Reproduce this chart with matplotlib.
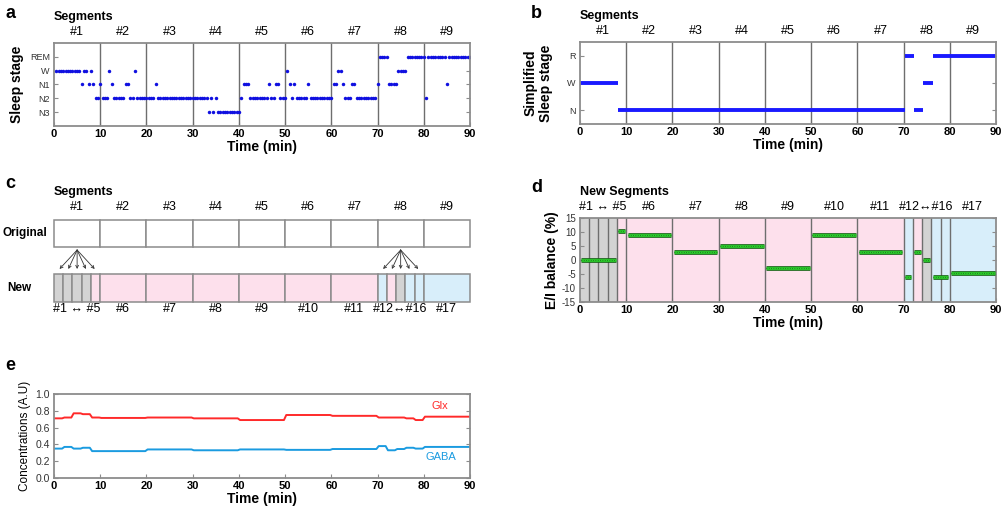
import matplotlib
matplotlib.use("Agg")
import matplotlib.pyplot as plt
import matplotlib.patches as mpatches
import numpy as np
from itertools import groupby

plt.rcParams["font.family"] = ["Liberation Sans", "DejaVu Sans"]
plt.rcParams["axes.unicode_minus"] = False

# ---- data ----
stage_names = ["N3", "N2", "N1", "W", "REM"]
# hypnogram, 30-s epochs as (stage, number of epochs)
hypno_stage = ["W", "N1", "W", "N1", "W", "N1", "N2", "N1", "N2", "W", "N1", "N2", "N1", "N2",
               "W", "N2", "N1", "N2", "N3", "N2", "N3", "N2", "N3", "N2", "N1", "N2", "N1", "N2",
               "N1", "N2", "W", "N1", "N2", "N1", "N2", "N1", "N2", "N1", "W", "N1", "N2", "N1",
               "N2", "N1", "REM", "N1", "W", "REM", "N2", "REM", "N1", "REM"]
hypno_len = [11, 1, 2, 1, 1, 1, 2, 1, 3, 1, 1, 5, 2, 2,
             1, 8, 1, 22, 1, 1, 1, 1, 10, 1, 3, 8, 1, 2,
             2, 3, 1, 1, 1, 1, 5, 1, 10, 2, 2, 1, 3, 2,
             9, 1, 4, 4, 4, 8, 1, 8, 1, 10]

simple_names = ["N", "W", "R"]
simple_start = [0, 8.3, 70.3, 72.3, 74.3, 76.3]
simple_end = [8.3, 70.3, 72.3, 74.3, 76.3, 90]
simple_stage = ["W", "N", "R", "N", "W", "R"]

orig_bounds = [0, 10, 20, 30, 40, 50, 60, 70, 80, 90]
orig_labels = ["#1", "#2", "#3", "#4", "#5", "#6", "#7", "#8", "#9"]

new_bounds = [0, 2, 4, 6, 8, 10, 20, 30, 40, 50, 60, 70, 72, 74, 76, 78, 80, 90]
new_kind = ["gray"] * 4 + ["pink"] * 7 + ["blue", "pink", "gray", "blue", "blue", "blue"]
new_label_pos = [5, 15, 25, 35, 45, 55, 65, 75, 85]
new_labels = ["#1 \u2194 #5", "#6", "#7", "#8", "#9", "#10", "#11", "#12\u2194#16", "#17"]

ei_balance = [0, 0, 0, 0, 10.5, 9, 2.7, 5, -2.7, 9, 3, -6, 3, 0, -6, -6, -4.5]
glx = [0.71, 0.72, 0.77, 0.76, 0.72, 0.715, 0.72, 0.71, 0.69, 0.75, 0.74, 0.72, 0.72, 0.72, 0.71, 0.69, 0.73]
gaba = [0.35, 0.37, 0.35, 0.36, 0.32, 0.32, 0.34, 0.33, 0.34, 0.335, 0.345, 0.38, 0.33, 0.345, 0.36, 0.35, 0.37]

kind_color = {"gray": "#d3d3d3", "pink": "#fde0ec", "blue": "#d8eefa"}
SPINE = "#8c8c8c"
VLINE = "#6e6e6e"

W, H = 1007, 511
fig = plt.figure(figsize=(W / 100, H / 100), dpi=100)


def box(l, t, r, b):
    return [l / W, 1 - b / H, (r - l) / W, (b - t) / H]


def style(ax, xbold=True):
    for s in ax.spines.values():
        s.set_color(SPINE)
        s.set_linewidth(1.3)
    ax.tick_params(direction="in", length=3, color=SPINE, right=True, top=False)
    ax.tick_params(axis="y", labelsize=6.5, labelcolor="#333333", pad=3)
    ax.tick_params(axis="x", labelsize=8, pad=2)
    ax.set_xlim(0, 90)
    ax.set_xticks(range(0, 91, 10))
    if xbold:
        for lb in ax.get_xticklabels():
            lb.set_fontweight("bold")


def seg_labels(ax, centers, labels, head, dy=8, dy_head=19):
    for c, lb in zip(centers, labels):
        ax.annotate(lb, (c, 1), xycoords=("data", "axes fraction"), xytext=(0, dy),
                    textcoords="offset points", ha="center", va="center", fontsize=9)
    ax.annotate(head, (0, 1), xycoords="axes fraction", xytext=(0, dy_head),
                textcoords="offset points", ha="left", va="center", fontsize=9, fontweight="bold")


def letter(x, y, s):
    fig.text(x / W, 1 - y / H, s, fontsize=13, fontweight="bold", ha="left", va="center")


orig_centers = [(a + b) / 2 for a, b in zip(orig_bounds[:-1], orig_bounds[1:])]

# ---- a: hypnogram ----
ax = fig.add_axes(box(54, 43, 470, 126))
codes = np.repeat([stage_names.index(s) + 1 for s in hypno_stage], hypno_len)
t = 0.5 * np.arange(1, len(codes) + 1)
for b in orig_bounds[1:-1]:
    ax.axvline(b, color=VLINE, lw=1)
ax.plot(t, codes, "o", color="#1010e0", ms=2.5, mew=0)
ax.set_ylim(0, 6)
ax.set_yticks(range(1, 6))
ax.set_yticklabels(stage_names)
style(ax)
ax.set_xlabel("Time (min)", fontsize=10, fontweight="bold", labelpad=1)
ax.set_ylabel("Sleep stage", fontsize=10, fontweight="bold", labelpad=4)
seg_labels(ax, orig_centers, orig_labels, "Segments")
letter(5, 14, "a")

# ---- b: simplified hypnogram ----
ax = fig.add_axes(box(580, 42, 996, 124))
for b in orig_bounds[1:-1]:
    ax.axvline(b, color=VLINE, lw=1)
for s0, s1, st in zip(simple_start, simple_end, simple_stage):
    y = simple_names.index(st) + 1
    ax.plot([s0, s1], [y, y], color="#1a1aff", lw=2.8, solid_capstyle="butt")
ax.set_ylim(0.5, 3.5)
ax.set_yticks([1, 2, 3])
ax.set_yticklabels(simple_names)
style(ax)
ax.set_xlabel("Time (min)", fontsize=10, fontweight="bold", labelpad=1)
ax.set_ylabel("Simplified\nSleep stage", fontsize=10, fontweight="bold", labelpad=10)
seg_labels(ax, orig_centers, orig_labels, "Segments")
letter(531, 14, "b")

# ---- c: segment scheme ----
ax = fig.add_axes(box(54, 215, 470, 305))
ax.set_xlim(0, 90)
ax.set_ylim(305, 215)
ax.axis("off")
for a, b in zip(orig_bounds[:-1], orig_bounds[1:]):
    ax.add_patch(mpatches.Rectangle((a, 220), b - a, 27, facecolor="white",
                                    edgecolor=SPINE, lw=1.1, clip_on=False))
for a, b, k in zip(new_bounds[:-1], new_bounds[1:], new_kind):
    ax.add_patch(mpatches.Rectangle((a, 274), b - a, 28, facecolor=kind_color[k],
                                    edgecolor=SPINE, lw=1.1, clip_on=False))
for src in [5, 75]:
    for off in [-3.8, -1.9, 0, 1.9, 3.8]:
        ax.annotate("", xy=(src + off, 269), xytext=(src, 250),
                    arrowprops=dict(arrowstyle="->", lw=0.6, color="#333333",
                                    shrinkA=0, shrinkB=0, mutation_scale=5))
for c, lb in zip(orig_centers, orig_labels):
    ax.text(c, 207, lb, ha="center", va="center", fontsize=9)
for c, lb in zip(new_label_pos, new_labels):
    ax.text(c, 309, lb, ha="center", va="center", fontsize=9)
ax.text(0, 192, "Segments", ha="left", va="center", fontsize=9, fontweight="bold")
ax.text(-1.5, 233, "Original", ha="right", va="center", fontsize=8.5, fontweight="bold")
ax.text(-5, 288, "New", ha="right", va="center", fontsize=8.5, fontweight="bold")
letter(5, 184, "c")

# ---- d: E/I balance ----
ax = fig.add_axes(box(580, 218, 996, 302))
for a, b, k in zip(new_bounds[:-1], new_bounds[1:], new_kind):
    ax.axvspan(a, b, facecolor=kind_color[k], lw=0)
for b in new_bounds[1:-1]:
    ax.axvline(b, color=VLINE, lw=1)
# neighbouring segments with the same value are drawn as one line
idx = 0
for v, grp in groupby(ei_balance):
    n = len(list(grp))
    a, b = new_bounds[idx] + 0.3, new_bounds[idx + n] - 0.3
    idx += n
    ax.plot([a, b], [v, v], color="#176617", lw=3.4, solid_capstyle="butt", zorder=3)
    ax.plot([a, b], [v, v], color="#2ed42e", lw=1.9, solid_capstyle="butt", zorder=4)
    ax.plot([a, b], [v, v], color="#1a6e1a", lw=0.7, ls=(0, (0.8, 1.6)), zorder=5)
ax.set_ylim(-15, 15)
ax.set_yticks(range(-15, 16, 5))
style(ax)
ax.tick_params(axis="y", labelsize=7)
ax.set_xlabel("Time (min)", fontsize=10, fontweight="bold", labelpad=1)
ax.set_ylabel("E/I balance (%)", fontsize=10, fontweight="bold", labelpad=2)
seg_labels(ax, new_label_pos, new_labels, "New Segments", dy=8, dy_head=19)
letter(531, 187, "d")

# ---- e: concentrations ----
ax = fig.add_axes(box(54, 394, 470, 478))
starts = np.array(new_bounds[:-1], dtype=float)
ends = np.array(new_bounds[1:], dtype=float)
xs = np.column_stack([starts + 0.25, ends - 0.25]).ravel()
xs[0], xs[-1] = 0, 90
ax.plot(xs, np.repeat(glx, 2), color="#ff2a2a", lw=1.4)
ax.plot(xs, np.repeat(gaba, 2), color="#1a9be0", lw=1.4)
ax.text(83.5, 0.86, "Glx", color="#ff2a2a", fontsize=8, ha="center", va="center")
ax.text(83.8, 0.25, "GABA", color="#1a9be0", fontsize=8, ha="center", va="center")
ax.set_ylim(0, 1)
ax.set_yticks(np.arange(0, 1.01, 0.2))
ax.set_yticklabels([f"{v:.1f}" for v in np.arange(0, 1.01, 0.2)])
style(ax)
ax.tick_params(axis="y", labelsize=7.5)
ax.set_xlabel("Time (min)", fontsize=10, fontweight="bold", labelpad=1)
ax.set_ylabel("Concentrations (A.U)", fontsize=8.5, labelpad=3)
letter(5, 365, "e")

fig.savefig("out.png", dpi=100)
